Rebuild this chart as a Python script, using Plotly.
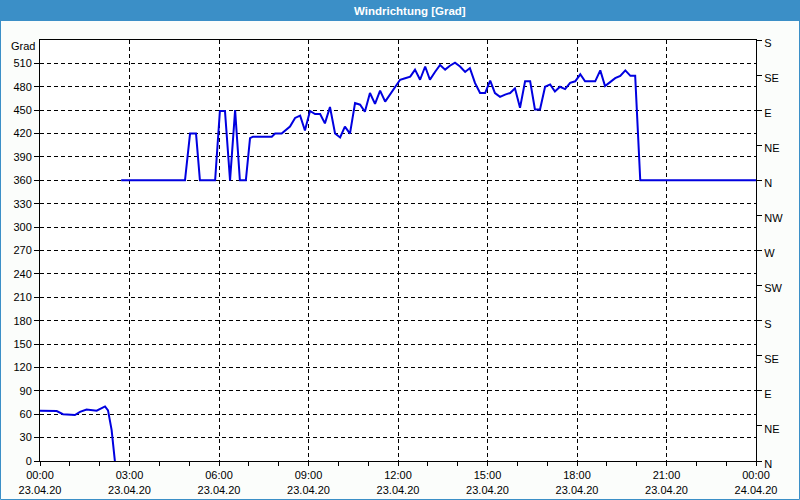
import plotly.graph_objects as go
import pandas as pd

# ---- data (hours after 23.04.20 00:00, wind direction in degrees) ----
seg1_hours = [0.0, 0.56, 0.77, 1.17, 1.34, 1.56, 1.9, 2.18, 2.28, 2.4, 2.51]
seg1_deg = [64.5, 64, 60, 59, 63, 66, 64.5, 70, 65, 40, 0]

seg2_hours = [2.72, 4.86, 5.03, 5.23, 5.36, 5.87, 6.03, 6.2, 6.37, 6.54, 6.7, 6.9,
              7.04, 7.14, 7.77, 7.88, 8.1, 8.3, 8.38, 8.55, 8.72, 8.88, 9.05, 9.22,
              9.39, 9.55, 9.72, 9.89, 10.06, 10.22, 10.39, 10.56, 10.73, 10.89,
              11.06, 11.23, 11.40, 11.57, 11.73, 11.90, 12.07, 12.24, 12.41, 12.57,
              12.74, 12.91, 13.07, 13.24, 13.41, 13.58, 13.74, 13.91, 14.08, 14.25,
              14.41, 14.58, 14.75, 14.92, 15.09, 15.25, 15.42, 15.59, 15.76, 15.92,
              16.09, 16.26, 16.43, 16.59, 16.76, 16.93, 17.10, 17.26, 17.43, 17.60,
              17.77, 17.94, 18.11, 18.27, 18.44, 18.61, 18.78, 18.94, 19.11, 19.28,
              19.45, 19.62, 19.79, 19.95, 20.12, 24.0]
seg2_deg = [360, 360, 420, 420, 360, 360, 449, 449, 360, 450, 360, 360,
            414, 416, 416, 420, 420, 427, 429, 440, 443, 424, 449, 445,
            445, 433, 454, 420, 415, 429, 420, 459, 457, 448,
            472, 458, 475, 461, 470, 478, 489, 491, 493, 502,
            489, 506, 489, 499, 508, 502, 507, 511, 506, 499,
            504, 485, 472, 472, 488, 472, 467, 470, 472, 478,
            453, 487, 487, 451, 451, 480, 483, 474, 480, 477,
            485, 487, 496, 487, 487, 487, 501, 481, 486, 491,
            494, 501, 494, 494, 360, 360]

left_ticks = list(range(0, 540, 30))
right_ticks = list(range(0, 541, 45))
right_labels = ["N", "NE", "E", "SE", "S", "SW", "W", "NW", "N", "NE", "E", "SE", "S"]
x_tick_hours = list(range(0, 25, 3))

base = pd.Timestamp("2020-04-23 00:00")


def to_time(hs):
    return [base + pd.Timedelta(hours=h) for h in hs]


xs = to_time(seg1_hours) + [None] + to_time(seg2_hours)
ys = seg1_deg + [None] + seg2_deg
x_tick_vals = to_time(x_tick_hours)
x_tick_text = [t.strftime("%H:%M") + "<br>" + t.strftime("%d.%m.%y") for t in x_tick_vals]

FONT = "Liberation Sans"
BLUE_BAR = "#3B8FC7"

fig = go.Figure()
fig.add_trace(go.Scatter(x=xs, y=ys, mode="lines",
                         line=dict(color="#0000E0", width=2),
                         connectgaps=False, hoverinfo="skip", showlegend=False))
fig.add_trace(go.Scatter(x=xs, y=ys, mode="lines", yaxis="y2",
                         line=dict(color="rgba(0,0,0,0)", width=0),
                         hoverinfo="skip", showlegend=False))

L, R, T, B = 40, 44, 40, 39
W, H = 800, 500
pw, ph = W - L - R, H - T - B


def px(x):
    return (x - L) / pw


def py(y):
    return (H - B - y) / ph


fig.update_layout(
    width=W, height=H,
    margin=dict(l=L, r=R, t=T, b=B, pad=0, autoexpand=False),
    paper_bgcolor="#FBFDFB",
    plot_bgcolor="white",
    font=dict(family=FONT, size=11, color="black"),
    showlegend=False,
    hovermode=False,
    xaxis=dict(
        type="date",
        range=[base, base + pd.Timedelta(hours=24)],
        tickvals=x_tick_vals, ticktext=x_tick_text,
        showgrid=True, gridcolor="black", gridwidth=1, griddash="4px,3px",
        showline=True, linecolor="black", linewidth=1, mirror=True,
        ticks="outside", ticklen=4, tickcolor="black",
        minor=dict(dtick=3600000, ticks="outside", ticklen=4, tickcolor="black", showgrid=False),
        zeroline=False, fixedrange=True, automargin=False,
    ),
    yaxis=dict(
        range=[0, 540],
        tickvals=left_ticks,
        showgrid=True, gridcolor="black", gridwidth=1, griddash="4px,3px",
        showline=True, linecolor="black", linewidth=1,
        ticks="outside", ticklen=5, tickcolor="black",
        zeroline=False, fixedrange=True, automargin=False,
    ),
    yaxis2=dict(
        range=[0, 540], overlaying="y", side="right",
        tickvals=right_ticks, ticktext=right_labels,
        showgrid=False, showline=True, linecolor="black", linewidth=1,
        ticks="outside", ticklen=5, tickcolor="black",
        ticklabelshift=3,
        zeroline=False, fixedrange=True, automargin=False,
    ),
    shapes=[
        dict(type="rect", xref="paper", yref="paper",
             x0=px(0), x1=px(W), y0=py(21), y1=py(0),
             fillcolor=BLUE_BAR, line=dict(width=0), layer="below"),
        dict(type="rect", xref="paper", yref="paper",
             x0=px(0.5), x1=px(W - 0.5), y0=py(H - 0.5), y1=py(0.5),
             fillcolor="rgba(0,0,0,0)", line=dict(color=BLUE_BAR, width=1)),
    ],
    annotations=[
        dict(text="<b>Windrichtung [Grad]</b>", xref="paper", yref="paper",
             x=px(410), y=py(10.5), xanchor="center", yanchor="middle",
             showarrow=False, font=dict(family=FONT, size=11.5, color="white")),
        dict(text="Grad", xref="paper", yref="paper",
             x=px(37), y=py(46), xanchor="right", yanchor="middle",
             showarrow=False, font=dict(family=FONT, size=11, color="black")),
    ],
)

fig.write_html("out.html")
